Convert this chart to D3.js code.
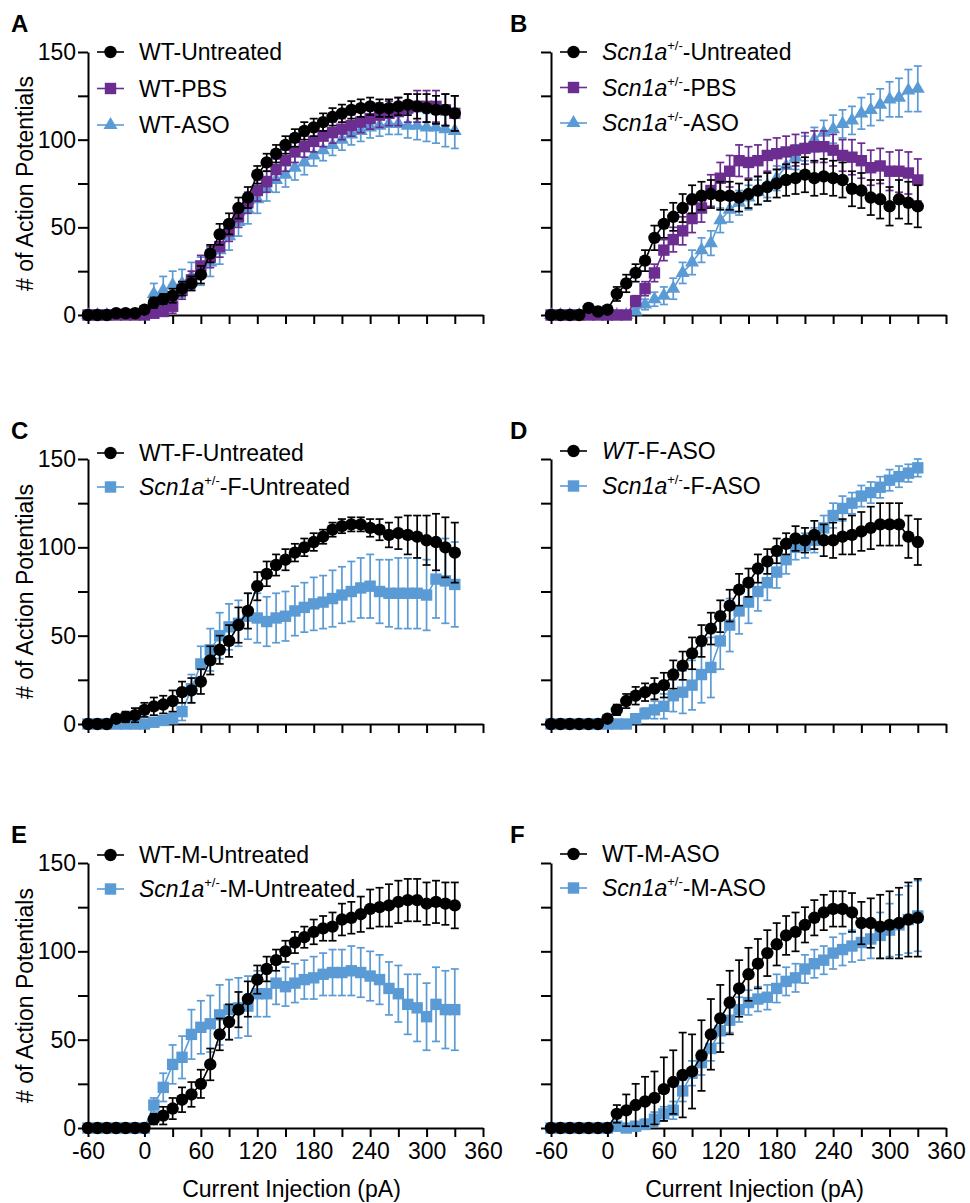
<!DOCTYPE html>
<html>
<head>
<meta charset="utf-8">
<script src="https://cdn.jsdelivr.net/npm/d3@7"></script>
<style>
    body { margin: 0; background: #fff; }
    svg { display: block; font-family: "Liberation Sans", Arial, Helvetica, sans-serif; }
</style>
</head>
<body>
<svg id="chart" width="970" height="1203"></svg>
<script>
// current steps (pA)
var currents = [-60, -50, -40, -30, -20, -10, 0, 10, 20, 30, 40, 50, 60, 70, 80, 90, 100, 110, 120, 130,
    140, 150, 160, 170, 180, 190, 200, 210, 220, 230, 240, 250, 260, 270, 280, 290, 300, 310, 320, 330];

var xTicks = [-60, 0, 30, 60, 90, 120, 150, 180, 210, 240, 270, 300, 330, 360];
var xTickLabels = [-60, 0, 60, 120, 180, 240, 300, 360];
var yTicks = [0, 25, 50, 75, 100, 125, 150];
var yTickLabels = [0, 50, 100, 150];

// A
var wtUntreated = [0, 0, 0, 1, 1, 1, 3, 7, 9, 11, 15, 18, 23, 35, 46, 52, 61, 67, 80, 87, 92, 97, 101, 105, 107, 110, 113, 115, 117, 118, 119, 118, 118, 119, 120, 119, 118, 117, 117, 115];
var wtUntreatedSem = [0, 0, 0, 1, 1, 1, 2, 3, 3, 4, 4, 4, 5, 5, 6, 6, 6, 6, 5, 5, 5, 5, 5, 5, 5, 5, 5, 5, 5, 5, 5, 5, 5, 5, 6, 7, 8, 8, 9, 10];
var wtPbs = [0, 0, 0, 0, 0, 0, 0, 1, 2, 5, 14, 20, 28, 33, 39, 48, 56, 64, 71, 76, 83, 88, 93, 96, 99, 102, 104, 106, 108, 110, 112, 114, 115, 116, 118, 119, 119, 119, 117, 115];
var wtPbsSem = [0, 0, 0, 0, 0, 0, 1, 2, 3, 4, 5, 5, 6, 6, 6, 6, 6, 6, 6, 6, 6, 6, 6, 6, 6, 6, 6, 6, 6, 6, 6, 7, 7, 8, 8, 9, 9, 9, 9, 10];
var wtAso = [0, 0, 0, 0, 0, 0, 2, 12, 14, 17, 18, 22, 25, 30, 37, 45, 53, 60, 66, 72, 77, 80, 84, 87, 91, 94, 97, 100, 103, 105, 107, 108, 109, 109, 108, 108, 107, 107, 106, 105];
var wtAsoSem = [0, 0, 0, 0, 0, 0, 2, 6, 8, 8, 8, 8, 8, 8, 8, 8, 8, 8, 8, 7, 7, 7, 7, 7, 6, 6, 6, 6, 6, 6, 6, 6, 6, 6, 7, 8, 8, 9, 10, 10];

// B
var hetUntreated = [0, 0, 0, 0, 4, 2, 3, 12, 18, 24, 31, 44, 52, 56, 61, 66, 68, 69, 68, 68, 67, 69, 71, 73, 75, 77, 78, 80, 78, 79, 78, 77, 72, 71, 67, 66, 62, 66, 64, 62];
var hetUntreatedSem = [0, 0, 0, 0, 2, 1, 2, 4, 5, 5, 6, 7, 8, 8, 8, 8, 8, 8, 8, 8, 8, 8, 8, 8, 8, 9, 9, 10, 10, 10, 10, 10, 10, 10, 10, 11, 11, 11, 12, 12];
var hetPbs = [0, 0, 0, 0, 0, 0, 0, 0, 0, 8, 15, 24, 37, 43, 48, 55, 61, 71, 78, 82, 88, 87, 88, 91, 92, 93, 94, 95, 96, 96, 94, 91, 90, 88, 84, 85, 82, 82, 81, 77];
var hetPbsSem = [0, 0, 0, 0, 0, 0, 0, 0, 1, 3, 4, 5, 6, 7, 8, 8, 8, 9, 9, 9, 9, 9, 9, 9, 9, 9, 9, 9, 9, 9, 9, 9, 10, 10, 10, 10, 11, 12, 12, 12];
var hetAso = [0, 0, 0, 0, 0, 0, 0, 0, 0, 2, 6, 9, 11, 15, 24, 30, 37, 41, 54, 60, 64, 67, 70, 74, 78, 85, 90, 95, 100, 104, 106, 109, 111, 115, 117, 120, 123, 124, 128, 129];
var hetAsoSem = [0, 0, 0, 0, 0, 0, 0, 0, 1, 2, 3, 4, 5, 6, 6, 7, 7, 7, 7, 7, 7, 7, 7, 7, 7, 7, 7, 7, 7, 7, 8, 8, 8, 9, 9, 9, 10, 11, 12, 13];

// C
var wtFUntreated = [0, 0, 0, 3, 4, 5, 8, 10, 11, 13, 18, 19, 24, 36, 42, 47, 56, 64, 78, 85, 90, 93, 97, 100, 103, 106, 110, 112, 113, 113, 111, 110, 107, 108, 107, 106, 104, 103, 100, 97];
var wtFUntreatedSem = [0, 0, 0, 2, 3, 4, 4, 5, 5, 6, 6, 7, 7, 8, 8, 9, 10, 10, 8, 7, 6, 6, 5, 5, 5, 4, 4, 4, 4, 4, 5, 6, 7, 9, 11, 12, 14, 16, 17, 17];
var hetFUntreated = [0, 0, 0, 0, 0, 0, 0, 1, 2, 3, 7, 20, 34, 42, 50, 55, 57, 61, 60, 58, 60, 61, 64, 66, 68, 69, 71, 73, 75, 77, 78, 75, 74, 74, 74, 74, 73, 82, 81, 79];
var hetFUntreatedSem = [0, 0, 0, 0, 0, 0, 0, 1, 2, 3, 5, 8, 10, 12, 13, 13, 13, 13, 14, 14, 14, 14, 14, 14, 15, 15, 16, 16, 17, 17, 18, 18, 19, 20, 20, 20, 20, 22, 24, 24];

// D
var wtFAso = [0, 0, 0, 0, 0, 0, 3, 8, 13, 16, 18, 20, 22, 28, 33, 40, 47, 54, 61, 67, 76, 80, 88, 92, 98, 102, 105, 104, 107, 104, 104, 106, 107, 109, 111, 113, 113, 113, 106, 103];
var wtFAsoSem = [0, 0, 0, 0, 0, 0, 1, 3, 4, 5, 5, 6, 7, 8, 8, 9, 9, 9, 9, 9, 9, 8, 8, 7, 7, 6, 7, 7, 8, 9, 10, 10, 11, 11, 12, 12, 12, 12, 12, 13];
var hetFAso = [0, 0, 0, 0, 0, 0, 0, 0, 0, 3, 6, 8, 10, 16, 18, 22, 28, 32, 47, 56, 64, 69, 75, 80, 86, 93, 100, 101, 104, 111, 118, 122, 125, 129, 131, 134, 138, 140, 142, 145];
var hetFAsoSem = [0, 0, 0, 0, 0, 0, 0, 0, 1, 2, 3, 5, 7, 9, 12, 14, 16, 17, 16, 15, 13, 12, 11, 10, 9, 8, 7, 7, 7, 7, 7, 7, 6, 6, 6, 6, 6, 6, 5, 5];

// E
var wtMUntreated = [0, 0, 0, 0, 0, 0, 0, 5, 7, 11, 16, 19, 25, 36, 53, 60, 67, 73, 84, 90, 95, 100, 105, 108, 111, 113, 114, 118, 119, 121, 124, 125, 126, 128, 129, 129, 127, 128, 127, 126];
var wtMUntreatedSem = [0, 0, 0, 0, 0, 0, 1, 3, 5, 6, 7, 7, 8, 9, 9, 10, 10, 10, 8, 7, 6, 6, 6, 6, 7, 7, 8, 9, 9, 10, 11, 11, 12, 12, 12, 12, 12, 12, 12, 13];
var hetMUntreated = [0, 0, 0, 0, 0, 0, 0, 13, 23, 36, 40, 53, 57, 59, 64, 67, 68, 69, 76, 76, 82, 80, 82, 84, 85, 87, 88, 88, 89, 88, 86, 84, 79, 76, 70, 68, 63, 70, 67, 67];
var hetMUntreatedSem = [0, 0, 0, 0, 0, 0, 1, 4, 8, 11, 12, 14, 15, 16, 17, 17, 17, 17, 13, 13, 12, 11, 11, 11, 12, 12, 13, 13, 14, 14, 14, 14, 15, 16, 17, 19, 19, 21, 22, 23];

// F
var wtMAso = [0, 0, 0, 0, 0, 0, 0, 8, 10, 13, 15, 17, 22, 26, 30, 32, 41, 53, 62, 71, 79, 87, 93, 99, 104, 109, 111, 115, 119, 122, 124, 124, 122, 116, 116, 114, 115, 116, 118, 119];
var wtMAsoSem = [0, 0, 0, 0, 0, 0, 1, 5, 9, 12, 14, 15, 18, 18, 24, 21, 20, 20, 19, 18, 16, 15, 14, 13, 12, 11, 11, 10, 10, 10, 10, 10, 11, 12, 14, 18, 19, 20, 21, 22];
var hetMAso = [0, 0, 0, 0, 0, 0, 0, 1, 0, 1, 2, 5, 8, 10, 21, 31, 37, 45, 55, 61, 67, 71, 73, 74, 79, 83, 85, 90, 93, 95, 99, 101, 103, 105, 107, 109, 112, 115, 118, 120];
var hetMAsoSem = [0, 0, 0, 0, 0, 0, 0, 1, 1, 2, 3, 4, 4, 5, 6, 7, 7, 7, 7, 7, 7, 7, 7, 7, 8, 8, 8, 8, 8, 8, 9, 9, 9, 10, 11, 13, 15, 17, 19, 20];

var black = "#000000";
var purple = "#6b2d8f";
var blue = "#5b9bd5";

// label pieces: [text, style]  style: "i" italic, "sup" superscript
var het = [["Scn1a", "i"], ["+/-", "sup"]];

var panels = [
    { letter: "A", col: 0, row: 0, legendY: 52, legendGap: 36.5, series: [
        { label: [["WT-Untreated"]], values: wtUntreated, sem: wtUntreatedSem, color: black, shape: "circle" },
        { label: [["WT-PBS"]], values: wtPbs, sem: wtPbsSem, color: purple, shape: "square" },
        { label: [["WT-ASO"]], values: wtAso, sem: wtAsoSem, color: blue, shape: "triangle" }
    ]},
    { letter: "B", col: 1, row: 0, legendY: 52, legendGap: 35.5, series: [
        { label: het.concat([["-Untreated"]]), values: hetUntreated, sem: hetUntreatedSem, color: black, shape: "circle" },
        { label: het.concat([["-PBS"]]), values: hetPbs, sem: hetPbsSem, color: purple, shape: "square" },
        { label: het.concat([["-ASO"]]), values: hetAso, sem: hetAsoSem, color: blue, shape: "triangle" }
    ]},
    { letter: "C", col: 0, row: 1, legendY: 453, legendGap: 34, series: [
        { label: [["WT-F-Untreated"]], values: wtFUntreated, sem: wtFUntreatedSem, color: black, shape: "circle" },
        { label: het.concat([["-F-Untreated"]]), values: hetFUntreated, sem: hetFUntreatedSem, color: blue, shape: "square" }
    ]},
    { letter: "D", col: 1, row: 1, legendY: 451, legendGap: 35, series: [
        { label: [["WT", "i"], ["-F-ASO"]], values: wtFAso, sem: wtFAsoSem, color: black, shape: "circle" },
        { label: het.concat([["-F-ASO"]]), values: hetFAso, sem: hetFAsoSem, color: blue, shape: "square" }
    ]},
    { letter: "E", col: 0, row: 2, legendY: 855, legendGap: 34, series: [
        { label: [["WT-M-Untreated"]], values: wtMUntreated, sem: wtMUntreatedSem, color: black, shape: "circle" },
        { label: het.concat([["-M-Untreated"]]), values: hetMUntreated, sem: hetMUntreatedSem, color: blue, shape: "square" }
    ]},
    { letter: "F", col: 1, row: 2, legendY: 854, legendGap: 34, series: [
        { label: [["WT-M-ASO"]], values: wtMAso, sem: wtMAsoSem, color: black, shape: "circle" },
        { label: het.concat([["-M-ASO"]]), values: hetMAso, sem: hetMAsoSem, color: blue, shape: "square" }
    ]}
];

var colX = [88, 551];
var plotW = 395;
var rowTop = [52, 459, 863];
var rowBottom = [315, 724, 1128];
var fontSize = 23;

var svg = d3.select("#chart");

panels.forEach(drawPanel);

function drawMarker(sel, shape, color) {
    if (shape === "circle") {
        sel.append("circle").attr("r", 6.2).attr("fill", color);
    } else if (shape === "square") {
        sel.append("rect").attr("x", -5.7).attr("y", -5.7).attr("width", 11.4).attr("height", 11.4).attr("fill", color);
    } else {
        sel.append("path").attr("d", d3.symbol().type(d3.symbolTriangle).size(85)()).attr("fill", color);
    }
}

function drawPanel(p) {
    var x = d3.scaleLinear().domain([-60, 360]).range([colX[p.col], colX[p.col] + plotW]);
    var y = d3.scaleLinear().domain([0, 150]).range([rowBottom[p.row], rowTop[p.row]]);
    var g = svg.append("g");

    // axes
    var yAxis = d3.axisLeft(y)
        .tickValues(yTicks)
        .tickSize(10)
        .tickSizeOuter(0)
        .tickPadding(2)
        .tickFormat(function (d) { return (p.col === 0 && yTickLabels.indexOf(d) >= 0) ? d : ""; });
    var xAxis = d3.axisBottom(x)
        .tickValues(xTicks)
        .tickSize(9)
        .tickSizeOuter(0)
        .tickPadding(6)
        .tickFormat(function (d) { return (p.row === 2 && xTickLabels.indexOf(d) >= 0) ? d : ""; });

    var gy = g.append("g").attr("transform", "translate(" + x(-60) + ",0)").call(yAxis);
    var gx = g.append("g").attr("transform", "translate(0," + y(0) + ")").call(xAxis);
    [gx, gy].forEach(function (a) {
        a.attr("font-family", null).attr("font-size", fontSize);
        a.selectAll("path, line").attr("stroke", "#000").attr("stroke-width", 2);
        a.selectAll("text").attr("fill", "#000");
    });

    // series: coloured ones underneath, black on top
    var order = p.series.slice().reverse();
    order.forEach(function (s) {
        var pts = currents.map(function (c, i) { return { x: c, v: s.values[i], e: s.sem[i] }; });
        var sg = g.append("g");

        var bars = sg.selectAll(".err").data(pts.filter(function (d) { return d.e > 0; })).enter()
            .append("g").attr("stroke", s.color).attr("stroke-width", 1.7);
        bars.append("line")
            .attr("x1", function (d) { return x(d.x); }).attr("x2", function (d) { return x(d.x); })
            .attr("y1", function (d) { return y(Math.max(0, d.v - d.e)); })
            .attr("y2", function (d) { return y(d.v + d.e); });
        bars.append("line")
            .attr("x1", function (d) { return x(d.x) - 4; }).attr("x2", function (d) { return x(d.x) + 4; })
            .attr("y1", function (d) { return y(d.v + d.e); }).attr("y2", function (d) { return y(d.v + d.e); });
        bars.filter(function (d) { return d.v - d.e > 0; }).append("line")
            .attr("x1", function (d) { return x(d.x) - 4; }).attr("x2", function (d) { return x(d.x) + 4; })
            .attr("y1", function (d) { return y(d.v - d.e); }).attr("y2", function (d) { return y(d.v - d.e); });

        var line = d3.line().x(function (d) { return x(d.x); }).y(function (d) { return y(d.v); });
        sg.append("path").datum(pts).attr("d", line)
            .attr("fill", "none").attr("stroke", s.color).attr("stroke-width", 1.6);

        sg.selectAll(".pt").data(pts).enter().append("g")
            .attr("transform", function (d) { return "translate(" + x(d.x) + "," + y(d.v) + ")"; })
            .each(function () { drawMarker(d3.select(this), s.shape, s.color); });
    });

    // legend
    var lx = colX[p.col] + 9;
    p.series.forEach(function (s, i) {
        var ly = p.legendY + i * p.legendGap;
        var lg = g.append("g").attr("transform", "translate(" + lx + "," + ly + ")");
        lg.append("line").attr("x1", 0).attr("x2", 27).attr("y1", 0).attr("y2", 0)
            .attr("stroke", s.color).attr("stroke-width", 1.6);
        drawMarker(lg.append("g").attr("transform", "translate(13.5,0)"), s.shape, s.color);
        var t = lg.append("text").attr("x", 42).attr("y", 8).attr("font-size", fontSize).attr("fill", "#000");
        var raised = false;
        s.label.forEach(function (part) {
            var ts = t.append("tspan").text(part[0]);
            if (part[1] === "i") ts.attr("font-style", "italic");
            if (part[1] === "sup") {
                ts.attr("font-size", 13).attr("dy", -10);
                raised = true;
            } else if (raised) {
                ts.attr("dy", 10);
                raised = false;
            }
        });
    });

    // panel letter
    svg.append("text").attr("x", p.col === 0 ? 11 : 510).attr("y", rowTop[p.row] - 20)
        .attr("font-size", 24).attr("font-weight", "bold").text(p.letter);

    // axis titles
    if (p.col === 0) {
        svg.append("text")
            .attr("transform", "translate(33," + (y(75)) + ") rotate(-90)")
            .attr("text-anchor", "middle").attr("font-size", fontSize)
            .text("# of Action Potentials");
    }
    if (p.row === 2) {
        svg.append("text")
            .attr("x", x(150) + 6).attr("y", 1197)
            .attr("text-anchor", "middle").attr("font-size", fontSize)
            .text("Current Injection (pA)");
    }
}
</script>
</body>
</html>
